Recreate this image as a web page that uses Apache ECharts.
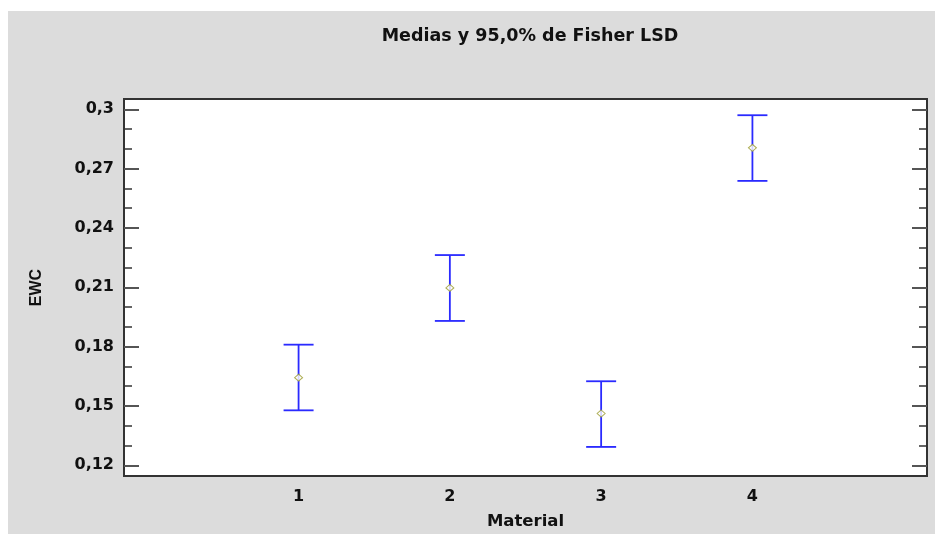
<!DOCTYPE html>
<html>
<head>
<meta charset="utf-8">
<script src="https://cdn.jsdelivr.net/npm/echarts@6/dist/echarts.min.js"></script>
<style>
  html, body { margin: 0; padding: 0; background: #ffffff; }
  #chart { width: 935px; height: 534px; }
</style>
</head>
<body>
<div id="chart"></div>
<script>
// Material groups, group means and 95% Fisher LSD interval limits for EWC
const categories = [1, 2, 3, 4];
const means = [0.1643, 0.2097, 0.1462, 0.2805];
const lower = [0.1478, 0.1930, 0.1293, 0.2638];
const upper = [0.1810, 0.2263, 0.1625, 0.2970];

// Axis tick positions
const yMajorTicks = [0.12, 0.15, 0.18, 0.21, 0.24, 0.27, 0.30];
const yMinorTicks = [0.13, 0.14, 0.16, 0.17, 0.19, 0.20, 0.22, 0.23, 0.25, 0.26, 0.28, 0.29];
const xTickLabels = ['1', '2', '3', '4'];

const Y_MIN = 0.1146, Y_MAX = 0.3052;
const X_MIN = -0.154, X_MAX = 5.154;
const FONT = '"DejaVu Sans", sans-serif';
const FONT_NARROW = '"Liberation Sans", Arial, sans-serif';

const chart = echarts.init(document.getElementById('chart'), null, { renderer: 'canvas' });

const intervalData = categories.map((c, i) => [c, lower[i], upper[i]]);
const meanData = categories.map((c, i) => [c, means[i]]);

function yAxisDef(position, values, len, showLabels, color, width) {
  return {
    type: 'value',
    position: position,
    offset: 0,
    min: Y_MIN,
    max: Y_MAX,
    splitLine: { show: false },
    axisLine: { show: false, onZero: false },
    axisTick: {
      show: true,
      inside: true,
      length: len,
      customValues: values,
      lineStyle: { color: color, width: width }
    },
    axisLabel: {
      show: showLabels,
      customValues: values,
      formatter: v => String(+v.toFixed(2)).replace('.', ','),
      fontFamily: FONT,
      fontWeight: 'bold',
      fontSize: 16,
      color: '#111',
      margin: 10
    }
  };
}

const yAxes = [
  Object.assign(yAxisDef('left', yMajorTicks, 15, true, '#555', 2), {
    name: 'EWC',
    nameLocation: 'middle',
    nameGap: 79,
    nameRotate: 90,
    nameTextStyle: { fontFamily: FONT_NARROW, fontWeight: 'bold', fontSize: 16, color: '#111' }
  }),
  yAxisDef('left', yMinorTicks, 8, false, '#333', 1.5),
  yAxisDef('right', yMajorTicks, 15, false, '#555', 2),
  yAxisDef('right', yMinorTicks, 8, false, '#333', 1.5)
];

chart.setOption({
  animation: false,
  backgroundColor: '#ffffff',
  graphic: [{
    type: 'rect',
    z: -100,
    silent: true,
    shape: { x: 8, y: 11, width: 927, height: 523 },
    style: { fill: '#dcdcdc' }
  }],
  title: {
    text: 'Medias y 95,0% de Fisher LSD',
    left: 525,
    textAlign: 'center',
    top: 22,
    textStyle: { fontFamily: FONT, fontWeight: 'bold', fontSize: 17.5, color: '#111' }
  },
  grid: {
    left: 124,
    top: 99,
    width: 803,
    height: 377,
    outerBoundsMode: 'none',
    containLabel: false,
    show: true,
    backgroundColor: '#ffffff',
    borderColor: '#333',
    borderWidth: 2
  },
  xAxis: {
    type: 'value',
    min: X_MIN,
    max: X_MAX,
    name: 'Material',
    nameLocation: 'middle',
    nameGap: 37,
    nameTextStyle: { fontFamily: FONT, fontWeight: 'bold', fontSize: 16.5, color: '#111' },
    splitLine: { show: false },
    axisLine: { show: false, onZero: false },
    axisTick: { show: false },
    axisLabel: {
      customValues: categories,
      formatter: v => xTickLabels[categories.indexOf(Math.round(v))] || '',
      fontFamily: FONT,
      fontWeight: 'bold',
      fontSize: 16,
      color: '#111',
      margin: 13
    }
  },
  yAxis: yAxes,
  series: [
    {
      type: 'custom',
      name: 'LSD',
      data: intervalData,
      renderItem: function (params, api) {
        const x = api.value(0);
        const top = api.coord([x, api.value(2)]);
        const bot = api.coord([x, api.value(1)]);
        const half = 15;
        const style = { stroke: '#2a2aff', lineWidth: 1.8 };
        return {
          type: 'group',
          children: [
            { type: 'line', shape: { x1: top[0], y1: top[1], x2: bot[0], y2: bot[1] }, style: style },
            { type: 'line', shape: { x1: top[0] - half, y1: top[1], x2: top[0] + half, y2: top[1] }, style: style },
            { type: 'line', shape: { x1: bot[0] - half, y1: bot[1], x2: bot[0] + half, y2: bot[1] }, style: style }
          ]
        };
      },
      z: 2
    },
    {
      type: 'scatter',
      name: 'Media',
      data: meanData,
      symbol: 'diamond',
      symbolSize: [8, 7],
      itemStyle: { color: '#ffffff', borderColor: '#9a9a2a', borderWidth: 1 },
      z: 3
    }
  ]
});
</script>
</body>
</html>
